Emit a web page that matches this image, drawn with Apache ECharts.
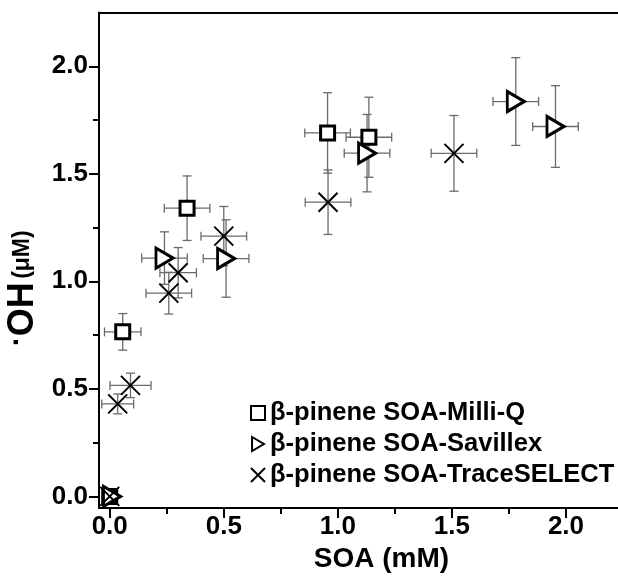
<!DOCTYPE html>
<html>
<head>
<meta charset="utf-8">
<script src="https://cdn.jsdelivr.net/npm/echarts@6/dist/echarts.min.js"></script>
<style>
  html, body { margin: 0; padding: 0; background: #fff; }
  #chart { width: 618px; height: 581px; }
</style>
</head>
<body>
<div id="chart"></div>
<script>
const FONT = '"Liberation Sans", Arial, sans-serif'

// axis ticks
const majorTicks = [0, 0.5, 1.0, 1.5, 2.0]
const minorTicks = [0.25, 0.75, 1.25, 1.75]

// β-pinene SOA-Milli-Q
const milliQX = [0.0, 0.057, 0.339, 0.955, 1.136]
const milliQY = [0.0, 0.765, 1.34, 1.69, 1.67]
const milliQXErr = [0, 0.08, 0.1, 0.1, 0.1]
const milliQYErr = [0, 0.085, 0.15, 0.187, 0.186]

// β-pinene SOA-Savillex
const savX = [0.01, 0.24, 0.51, 1.128, 1.78, 1.954]
const savY = [0.0, 1.108, 1.106, 1.596, 1.836, 1.72]
const savXErr = [0, 0.1, 0.1, 0.1, 0.1, 0.1]
const savYErr = [0, 0.122, 0.18, 0.18, 0.204, 0.19]

// β-pinene SOA-TraceSELECT
const traceX = [0.0, 0.035, 0.091, 0.259, 0.30, 0.5, 0.957, 1.509]
const traceY = [0.0, 0.43, 0.516, 0.945, 1.04, 1.21, 1.368, 1.595]
const traceXErr = [0, 0.07, 0.09, 0.1, 0.08, 0.1, 0.1, 0.1]
const traceYErr = [0, 0.046, 0.057, 0.097, 0.117, 0.138, 0.15, 0.176]

const seriesNames = ['β-pinene SOA-Milli-Q', 'β-pinene SOA-Savillex', 'β-pinene SOA-TraceSELECT']

const X_MIN = -0.047, X_MAX = 2.228
const Y_MIN = -0.054, Y_MAX = 2.25

function zip(xs, ys) {
  return xs.map((x, i) => [x, ys[i]])
}

function errorBars(xs, ys, xe, ye) {
  return {
    type: 'custom',
    silent: true,
    z: 1,
    data: xs.map((x, i) => [x, ys[i], xe[i], ye[i]]),
    encode: { x: 0, y: 1 },
    renderItem(params, api) {
      const x = api.value(0), y = api.value(1)
      const dx = api.value(2), dy = api.value(3)
      const children = []
      const style = { stroke: '#6b6b6b', lineWidth: 1.3 }
      const cap = 4.5
      if (dx > 0) {
        const l = api.coord([x - dx, y]), r = api.coord([x + dx, y])
        children.push({ type: 'line', shape: { x1: l[0], y1: l[1], x2: r[0], y2: r[1] }, style })
        children.push({ type: 'line', shape: { x1: l[0], y1: l[1] - cap, x2: l[0], y2: l[1] + cap }, style })
        children.push({ type: 'line', shape: { x1: r[0], y1: r[1] - cap, x2: r[0], y2: r[1] + cap }, style })
      }
      if (dy > 0) {
        const t = api.coord([x, y + dy]), b = api.coord([x, y - dy])
        children.push({ type: 'line', shape: { x1: t[0], y1: t[1], x2: b[0], y2: b[1] }, style })
        children.push({ type: 'line', shape: { x1: t[0] - cap, y1: t[1], x2: t[0] + cap, y2: t[1] }, style })
        children.push({ type: 'line', shape: { x1: b[0] - cap, y1: b[1], x2: b[0] + cap, y2: b[1] }, style })
      }
      return { type: 'group', children }
    }
  }
}

const labelStyle = { color: '#000', fontFamily: FONT, fontWeight: 'bold', fontSize: 26 }

// extra axes only used to draw tick marks at the same place as the main ones
function tickAxis(pos, values, len) {
  return {
    type: 'value', min: pos === 'left' ? Y_MIN : X_MIN, max: pos === 'left' ? Y_MAX : X_MAX,
    position: pos,
    axisLine: { show: false, onZero: false },
    axisTick: { show: true, customValues: values, length: len, lineStyle: { color: '#000', width: 2 } },
    axisLabel: { show: false },
    splitLine: { show: false }
  }
}

const option = {
  backgroundColor: '#fff',
  animation: false,
  grid: { left: 99, right: 0, top: 12.5, bottom: 73, outerBoundsMode: 'none', containLabel: false },
  legend: {
    orient: 'vertical',
    left: 245,
    top: 395,
    itemWidth: 14,
    itemHeight: 14,
    itemGap: 5,
    itemStyle: { borderWidth: 2 },
    textStyle: { color: '#000', fontFamily: FONT, fontWeight: 'bold', fontSize: 25.5, lineHeight: 24 },
    data: seriesNames
  },
  xAxis: [
    {
      type: 'value', min: X_MIN, max: X_MAX, position: 'bottom',
      name: 'SOA (mM)', nameLocation: 'middle', nameGap: 37,
      nameTextStyle: { color: '#000', fontFamily: FONT, fontWeight: 'bold', fontSize: 28, padding: [0, 0, 0, 46] },
      axisLine: { onZero: false, lineStyle: { color: '#000', width: 2 } },
      axisTick: { show: true, customValues: majorTicks, length: 10, lineStyle: { color: '#000', width: 2 } },
      axisLabel: { customValues: majorTicks, margin: 6, formatter: v => v.toFixed(1), ...labelStyle },
      splitLine: { show: false }
    },
    tickAxis('bottom', majorTicks, 10),
    tickAxis('bottom', minorTicks, 6),
    {
      type: 'value', min: X_MIN, max: X_MAX, position: 'top',
      axisLine: { onZero: false, lineStyle: { color: '#000', width: 2 } },
      axisTick: { show: false },
      axisLabel: { show: false },
      splitLine: { show: false }
    }
  ],
  yAxis: [
    {
      type: 'value', min: Y_MIN, max: Y_MAX, position: 'left',
      name: '{d|·}{b|OH} {s|(μM)}', nameLocation: 'middle', nameGap: 48,
      nameTextStyle: {
        color: '#000', fontFamily: FONT, fontWeight: 'bold',
        padding: [0, 56, 0, 0],
        rich: {
          d: { fontFamily: FONT, fontWeight: 'bold', fontSize: 30, color: '#000', padding: [0, 0, 10, 0] },
          b: { fontFamily: FONT, fontWeight: 'bold', fontSize: 36, color: '#000' },
          s: { fontFamily: FONT, fontWeight: 'bold', fontSize: 23, color: '#000' }
        }
      },
      axisLine: { onZero: false, lineStyle: { color: '#000', width: 2 } },
      axisTick: { show: true, customValues: majorTicks, length: 10, lineStyle: { color: '#000', width: 2 } },
      axisLabel: { customValues: majorTicks, margin: 11, formatter: v => v.toFixed(1), ...labelStyle },
      splitLine: { show: false }
    },
    tickAxis('left', majorTicks, 10),
    tickAxis('left', minorTicks, 6)
  ],
  series: [
    errorBars(milliQX, milliQY, milliQXErr, milliQYErr),
    errorBars(savX, savY, savXErr, savYErr),
    errorBars(traceX, traceY, traceXErr, traceYErr),
    {
      name: seriesNames[0], type: 'scatter', z: 3,
      data: zip(milliQX, milliQY),
      symbol: 'rect', symbolSize: 14,
      itemStyle: { color: '#fff', borderColor: '#000', borderWidth: 3, opacity: 1 }
    },
    {
      name: seriesNames[1], type: 'scatter', z: 4,
      data: zip(savX, savY),
      symbol: 'path://M0,0L17,10L0,20Z', symbolSize: [17, 20],
      itemStyle: { color: '#fff', borderColor: '#000', borderWidth: 3, opacity: 1 }
    },
    {
      name: seriesNames[2], type: 'scatter', z: 5,
      data: zip(traceX, traceY),
      symbol: 'path://M0,0L20,20M20,0L0,20', symbolSize: 19,
      itemStyle: { color: 'transparent', borderColor: '#000', borderWidth: 2, opacity: 1 }
    }
  ]
}

const chart = echarts.init(document.getElementById('chart'))
chart.setOption(option)
</script>
</body>
</html>
